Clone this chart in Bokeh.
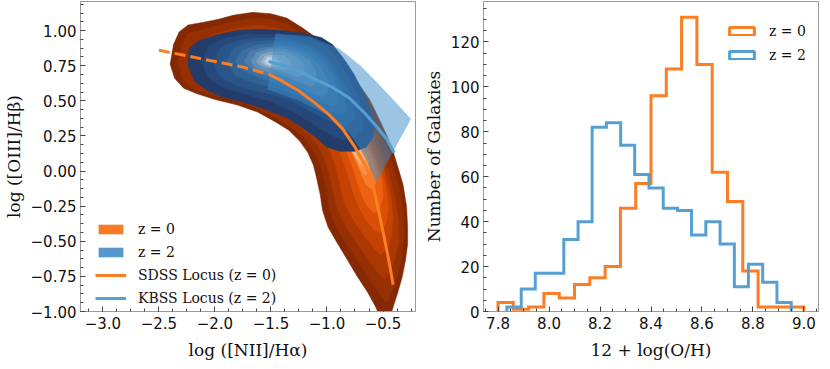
from bokeh.plotting import figure
from bokeh.layouts import row
from bokeh.models import SingleIntervalTicker, CustomJSTickFormatter, Range1d
from bokeh.embed import file_html
from bokeh.resources import INLINE

NAN = float("nan")

# ---------------- right panel: metallicity histograms ----------------
bin_edges_z0 = [7.80, 7.86, 7.92, 7.98, 8.04, 8.10, 8.16, 8.22, 8.28, 8.34, 8.40,
                8.46, 8.52, 8.58, 8.64, 8.70, 8.76, 8.82, 8.88, 8.94, 9.00]
counts_z0 = [4, 1, 2, 8, 6, 12, 15, 20, 46, 57, 96, 108, 131, 110, 62, 49, 18, 2, 2, 2]
bin_edges_z2 = [7.835, 7.891, 7.946, 8.002, 8.058, 8.114, 8.169, 8.225, 8.281, 8.336, 8.392,
                8.448, 8.504, 8.559, 8.615, 8.671, 8.727, 8.782, 8.838, 8.894, 8.950]
counts_z2 = [2, 10, 17, 17, 32, 40, 82, 84, 74, 61, 55, 46, 45, 34, 40, 30, 11, 21, 13, 4]

# ---------------- left panel: BPT diagram ----------------
# SDSS locus (dashed extrapolation + solid part), KBSS locus
sdss_dash_x = [-2.50, -2.25, -2.00, -1.75, -1.52]
sdss_dash_y = [0.86, 0.82, 0.78, 0.74, 0.69]
sdss_x = [-1.52, -1.40, -1.25, -1.10, -0.98, -0.86, -0.75, -0.66, -0.60, -0.54, -0.48, -0.44, -0.41]
sdss_y = [0.69, 0.64, 0.57, 0.48, 0.40, 0.30, 0.17, 0.04, -0.06, -0.28, -0.51, -0.67, -0.81]
kbss_x = [-1.52, -1.38, -1.25, -1.10, -0.96, -0.80, -0.66, -0.55, -0.47, -0.40]
kbss_y = [0.78, 0.75, 0.71, 0.65, 0.60, 0.52, 0.41, 0.31, 0.23, 0.13]

# KBSS locus scatter wedge
wedge_x = [-1.46, -1.16, -0.89, -0.70, -0.54, -0.40, -0.25, -0.56, -0.66, -0.80, -1.00, -1.25, -1.53]
wedge_y = [0.98, 0.96, 0.87, 0.75, 0.62, 0.50, 0.37, -0.08, 0.10, 0.27, 0.40, 0.50, 0.58]

# z ~ 0 (SDSS) density contours, outer -> inner
z0_l1_x = [-2.40, -2.37, -2.32, -2.24, -2.10, -1.97, -1.83, -1.66, -1.50, -1.36, -1.22, -1.08, -0.95, -0.82,
           -0.70, -0.62, -0.54, -0.47, -0.41, -0.36, -0.32, -0.29, -0.28, -0.28, -0.30, -0.33, -0.37, -0.41,
           -0.44, -0.48, -0.52, -0.57, -0.64, -0.73, -0.82, -0.91, -0.99, -1.04, -1.06, -1.09, -1.12, -1.17,
           -1.24, -1.34, -1.46, -1.62, -1.80, -2.00, -2.16, -2.28, -2.36]
z0_l1_y = [0.76, 0.90, 0.99, 1.04, 1.06, 1.08, 1.11, 1.13, 1.12, 1.09, 1.02, 0.94, 0.85, 0.71,
           0.60, 0.51, 0.38, 0.26, 0.14, 0.01, -0.10, -0.25, -0.40, -0.52, -0.64, -0.76, -0.87, -0.97,
           -1.05, -1.20, -1.05, -0.96, -0.86, -0.75, -0.63, -0.51, -0.40, -0.28, -0.17, -0.06, 0.04, 0.13,
           0.21, 0.29, 0.35, 0.42, 0.47, 0.51, 0.55, 0.59, 0.66]
z0_l2_x = [-2.33, -2.30, -2.24, -2.10, -1.95, -1.80, -1.64, -1.50, -1.37, -1.24, -1.10, -0.98, -0.86, -0.74,
           -0.65, -0.57, -0.50, -0.44, -0.39, -0.35, -0.32, -0.31, -0.33, -0.37, -0.42, -0.46, -0.51, -0.59,
           -0.68, -0.77, -0.86, -0.93, -0.98, -1.00, -1.03, -1.07, -1.13, -1.21, -1.32, -1.46, -1.64, -1.82,
           -2.02, -2.18, -2.28]
z0_l2_y = [0.76, 0.90, 0.98, 1.01, 1.04, 1.07, 1.09, 1.08, 1.05, 0.98, 0.90, 0.81, 0.68, 0.57,
           0.47, 0.34, 0.22, 0.10, -0.02, -0.15, -0.30, -0.45, -0.60, -0.74, -0.86, -0.94, -0.90, -0.81,
           -0.70, -0.59, -0.48, -0.38, -0.27, -0.16, -0.05, 0.06, 0.16, 0.24, 0.31, 0.38, 0.45, 0.50,
           0.54, 0.58, 0.64]
z0_l3_x = [-2.20, -2.15, -2.00, -1.80, -1.60, -1.40, -1.25, -1.10, -0.96, -0.84, -0.72, -0.62, -0.54, -0.48,
           -0.43, -0.39, -0.36, -0.36, -0.39, -0.44, -0.49, -0.55, -0.63, -0.72, -0.80, -0.87, -0.92, -0.95,
           -0.98, -1.02, -1.08, -1.16, -1.28, -1.45, -1.65, -1.85, -2.05, -2.16]
z0_l3_y = [0.78, 0.92, 0.98, 1.02, 1.04, 1.01, 0.94, 0.85, 0.74, 0.62, 0.50, 0.36, 0.22, 0.08,
           -0.06, -0.20, -0.35, -0.50, -0.62, -0.72, -0.77, -0.72, -0.63, -0.53, -0.44, -0.34, -0.24, -0.13,
           -0.02, 0.08, 0.18, 0.26, 0.34, 0.42, 0.49, 0.54, 0.59, 0.66]
z0_l4_x = [-2.00, -1.85, -1.60, -1.40, -1.22, -1.06, -0.92, -0.80, -0.68, -0.59, -0.52, -0.47, -0.43, -0.41,
           -0.42, -0.46, -0.52, -0.58, -0.66, -0.74, -0.81, -0.86, -0.89, -0.92, -0.97, -1.04, -1.14, -1.30,
           -1.50, -1.75, -1.92]
z0_l4_y = [0.80, 0.95, 0.99, 0.96, 0.89, 0.78, 0.66, 0.54, 0.40, 0.25, 0.10, -0.04, -0.18, -0.32,
           -0.45, -0.55, -0.60, -0.55, -0.47, -0.38, -0.29, -0.19, -0.08, 0.03, 0.13, 0.23, 0.31, 0.40,
           0.47, 0.55, 0.65]
z0_l5_x = [-1.80, -1.60, -1.35, -1.15, -1.00, -0.87, -0.75, -0.65, -0.57, -0.51, -0.47, -0.45, -0.47, -0.52,
           -0.58, -0.65, -0.71, -0.76, -0.80, -0.84, -0.89, -0.96, -1.06, -1.22, -1.45, -1.68]
z0_l5_y = [0.78, 0.90, 0.88, 0.78, 0.66, 0.54, 0.41, 0.27, 0.13, 0.00, -0.13, -0.26, -0.37, -0.44,
           -0.42, -0.35, -0.27, -0.17, -0.07, 0.04, 0.14, 0.23, 0.32, 0.42, 0.52, 0.62]
z0_l6_x = [-1.50, -1.30, -1.12, -0.97, -0.84, -0.72, -0.63, -0.56, -0.51, -0.50, -0.53, -0.58, -0.64, -0.69,
           -0.73, -0.77, -0.81, -0.87, -0.96, -1.12, -1.32]
z0_l6_y = [0.75, 0.80, 0.71, 0.60, 0.47, 0.33, 0.19, 0.06, -0.07, -0.18, -0.27, -0.30, -0.25, -0.17,
           -0.08, 0.02, 0.11, 0.20, 0.29, 0.40, 0.52]
z0_l7_x = [-1.25, -1.08, -0.93, -0.80, -0.69, -0.61, -0.56, -0.56, -0.60, -0.65, -0.69, -0.73, -0.77, -0.83,
           -0.92, -1.05, -1.20]
z0_l7_y = [0.65, 0.62, 0.52, 0.39, 0.25, 0.12, 0.00, -0.08, -0.13, -0.10, -0.03, 0.05, 0.13, 0.21,
           0.30, 0.40, 0.52]
z0_l8_x = [-1.05, -0.92, -0.80, -0.70, -0.63, -0.62, -0.66, -0.70, -0.74, -0.78, -0.85, -0.95, -1.05]
z0_l8_y = [0.50, 0.45, 0.33, 0.20, 0.08, 0.00, -0.03, 0.01, 0.08, 0.15, 0.23, 0.32, 0.42]
z0_l9_x = [-0.90, -0.78, -0.70, -0.66, -0.70, -0.75, -0.80, -0.88]
z0_l9_y = [0.35, 0.27, 0.16, 0.08, 0.05, 0.10, 0.17, 0.25]

# z ~ 2 (KBSS) density contours, outer -> inner
z2_l1_x = [-2.24, -2.23, -2.14, -1.98, -1.80, -1.60, -1.40, -1.20, -1.05, -0.95, -0.85, -0.76, -0.68, -0.62,
           -0.58, -0.59, -0.65, -0.75, -0.88, -1.00, -1.10, -1.22, -1.36, -1.55, -1.75, -1.95, -2.08, -2.18]
z2_l1_y = [0.75, 0.87, 0.93, 0.97, 1.00, 1.01, 1.00, 0.98, 0.95, 0.90, 0.80, 0.69, 0.57, 0.45,
           0.34, 0.24, 0.17, 0.14, 0.14, 0.17, 0.24, 0.31, 0.38, 0.44, 0.49, 0.53, 0.58, 0.64]
z2_l2_x = [-2.12, -2.06, -1.90, -1.70, -1.45, -1.22, -1.06, -0.96, -0.87, -0.79, -0.72, -0.67, -0.68, -0.75,
           -0.86, -0.98, -1.12, -1.28, -1.48, -1.70, -1.92, -2.06]
z2_l2_y = [0.78, 0.89, 0.95, 0.98, 0.97, 0.95, 0.91, 0.85, 0.75, 0.64, 0.52, 0.40, 0.30, 0.24,
           0.22, 0.26, 0.33, 0.41, 0.49, 0.54, 0.59, 0.66]
z2_l3_x = [-2.01, -1.95, -1.80, -1.60, -1.40, -1.22, -1.08, -0.98, -0.90, -0.82, -0.76, -0.74, -0.80, -0.90,
           -1.02, -1.16, -1.32, -1.52, -1.74, -1.92, -1.99]
z2_l3_y = [0.78, 0.88, 0.93, 0.95, 0.95, 0.92, 0.87, 0.80, 0.70, 0.58, 0.47, 0.38, 0.33, 0.33,
           0.37, 0.43, 0.50, 0.55, 0.59, 0.65, 0.71]
z2_l4_x = [-1.90, -1.84, -1.70, -1.50, -1.30, -1.15, -1.04, -0.95, -0.88, -0.83, -0.82, -0.88, -0.98, -1.10,
           -1.25, -1.45, -1.66, -1.82]
z2_l4_y = [0.78, 0.87, 0.92, 0.93, 0.92, 0.88, 0.82, 0.73, 0.62, 0.51, 0.43, 0.40, 0.42, 0.47,
           0.53, 0.59, 0.63, 0.68]
z2_l5_x = [-1.82, -1.76, -1.62, -1.45, -1.28, -1.14, -1.04, -0.96, -0.91, -0.90, -0.95, -1.05, -1.18, -1.35,
           -1.55, -1.72]
z2_l5_y = [0.78, 0.86, 0.90, 0.91, 0.89, 0.85, 0.78, 0.69, 0.59, 0.50, 0.46, 0.49, 0.54, 0.60,
           0.65, 0.70]
z2_l6_x = [-1.74, -1.69, -1.57, -1.42, -1.27, -1.15, -1.06, -1.00, -0.99, -1.04, -1.14, -1.28, -1.45, -1.64]
z2_l6_y = [0.78, 0.85, 0.88, 0.89, 0.87, 0.82, 0.75, 0.66, 0.57, 0.53, 0.56, 0.61, 0.66, 0.70]
z2_l7_x = [-1.68, -1.63, -1.52, -1.38, -1.26, -1.16, -1.10, -1.09, -1.14, -1.24, -1.38, -1.55, -1.64]
z2_l7_y = [0.78, 0.84, 0.87, 0.87, 0.84, 0.79, 0.71, 0.63, 0.60, 0.63, 0.68, 0.71, 0.74]
z2_l8_x = [-1.63, -1.59, -1.50, -1.38, -1.28, -1.21, -1.20, -1.26, -1.36, -1.50, -1.59]
z2_l8_y = [0.78, 0.83, 0.85, 0.85, 0.82, 0.76, 0.69, 0.67, 0.70, 0.73, 0.75]
z2_l9_x = [-1.59, -1.55, -1.47, -1.38, -1.32, -1.32, -1.40, -1.50, -1.56]
z2_l9_y = [0.78, 0.82, 0.83, 0.82, 0.78, 0.73, 0.72, 0.74, 0.76]
z2_l10_x = [-1.56, -1.53, -1.47, -1.42, -1.44, -1.50, -1.54]
z2_l10_y = [0.78, 0.81, 0.81, 0.78, 0.75, 0.75, 0.76]

z0_levels_x = [z0_l1_x, z0_l2_x, z0_l3_x, z0_l4_x, z0_l5_x, z0_l6_x, z0_l7_x, z0_l8_x, z0_l9_x]
z0_levels_y = [z0_l1_y, z0_l2_y, z0_l3_y, z0_l4_y, z0_l5_y, z0_l6_y, z0_l7_y, z0_l8_y, z0_l9_y]
z0_colors = ["#842903", "#963003", "#ab3803", "#c44202", "#da4f07", "#ec6211", "#f77b29", "#fd9548", "#fdb173"]
z2_levels_x = [z2_l1_x, z2_l2_x, z2_l3_x, z2_l4_x, z2_l5_x, z2_l6_x, z2_l7_x, z2_l8_x, z2_l9_x, z2_l10_x]
z2_levels_y = [z2_l1_y, z2_l2_y, z2_l3_y, z2_l4_y, z2_l5_y, z2_l6_y, z2_l7_y, z2_l8_y, z2_l9_y, z2_l10_y]
z2_colors = ["#233c6a", "#26487b", "#2a5589", "#306296", "#3b6fa1", "#4c7eab", "#6490b7", "#7fa3c3", "#9cb7cf", "#c3d0da"]

ORANGE = "#fb7d24"
BLUE = "#55a0d3"
SERIF = "DejaVu Serif"
SANS = "DejaVu Sans"


def fmt(decimals):
    return CustomJSTickFormatter(code=(
        "const s = Math.abs(tick).toFixed(%d);" % decimals +
        "return (tick < -1e-9 ? '\u2212' : '') + s;"))


def style(p, xlabel, ylabel):
    for ax in (p.xaxis[0], p.yaxis[0]):
        ax.major_tick_in = 5
        ax.major_tick_out = 0
        ax.minor_tick_in = 3
        ax.minor_tick_out = 0
        ax.major_tick_line_color = "#444444"
        ax.minor_tick_line_color = "#444444"
        ax.axis_line_color = "#9a9a9a"
        ax.major_label_text_font = SANS
        ax.major_label_text_font_size = "15px"
        ax.major_label_text_color = "#111111"
        ax.axis_label_text_font = SERIF
        ax.axis_label_text_font_size = "17px"
        ax.axis_label_text_font_style = "normal"
        ax.axis_label_text_color = "#111111"
        ax.major_label_standoff = 4
        ax.axis_label_standoff = 4
    p.xaxis[0].axis_label_standoff = 8
    p.xaxis[0].major_label_standoff = 5
    p.xaxis[0].axis_label = xlabel
    p.yaxis[0].axis_label = ylabel
    p.xgrid.visible = False
    p.ygrid.visible = False
    p.outline_line_color = "#9a9a9a"
    p.outline_line_width = 1


def legend_style(leg, glyph_h, label_h):
    leg.background_fill_alpha = 0
    leg.border_line_alpha = 0
    leg.padding = 0
    leg.margin = 0
    leg.spacing = 0
    leg.glyph_width = 31
    leg.glyph_height = glyph_h
    leg.label_height = label_h
    leg.label_standoff = 12
    leg.label_text_font = SERIF
    leg.label_text_font_size = "14px"
    leg.label_text_color = "#111111"


FRAME_W = 335
FRAME_H = 310

# ---------------- left figure ----------------
p1 = figure(frame_width=FRAME_W, frame_height=FRAME_H, min_border_left=75, min_border_right=2,
            min_border_top=1, min_border_bottom=0,
            x_range=Range1d(-3.2, -0.21), y_range=Range1d(-1.0, 1.207),
            output_backend="svg", toolbar_location=None)
p1.xaxis[0].ticker = SingleIntervalTicker(interval=0.5, num_minor_ticks=4)
p1.yaxis[0].ticker = SingleIntervalTicker(interval=0.25, num_minor_ticks=4)
p1.xaxis[0].formatter = fmt(1)
p1.yaxis[0].formatter = fmt(2)
style(p1, "log ([NII]/H\u03b1)", "log ([OIII]/H\u03b2)")

p1.patches(xs=z0_levels_x, ys=z0_levels_y, fill_color=z0_colors, line_color=z0_colors, line_width=0.5)
p1.patches(xs=z2_levels_x, ys=z2_levels_y, fill_color=z2_colors, line_color=z2_colors, line_width=0.5)
# legend proxies (nothing drawn in the plot area)
p1.patch(x=[NAN], y=[NAN], fill_color="#f77b27", line_alpha=0, legend_label="z = 0")
p1.patch(x=[NAN], y=[NAN], fill_color="#5599cc", line_alpha=0, legend_label="z = 2")
p1.patch(x=wedge_x, y=wedge_y, fill_color="#3a8cc8", fill_alpha=0.5, line_alpha=0)
p1.line(sdss_dash_x, sdss_dash_y, line_color=ORANGE, line_width=3, line_dash="11 5")
p1.line(sdss_x, sdss_y, line_color=ORANGE, line_width=3, legend_label="SDSS Locus (z = 0)")
p1.line(kbss_x, kbss_y, line_color=BLUE, line_width=3, legend_label="KBSS Locus (z = 2)")

leg = p1.legend[0]
legend_style(leg, 12, 23)
leg.location = (15, 2)

# ---------------- right figure ----------------
p2 = figure(frame_width=FRAME_W, frame_height=FRAME_H, min_border_left=66, min_border_right=1,
            min_border_top=1, min_border_bottom=0,
            x_range=Range1d(7.743, 9.057), y_range=Range1d(0, 138),
            output_backend="svg", toolbar_location=None)
p2.xaxis[0].ticker = SingleIntervalTicker(interval=0.2, num_minor_ticks=4)
p2.yaxis[0].ticker = SingleIntervalTicker(interval=20, num_minor_ticks=4)
p2.xaxis[0].formatter = fmt(1)
p2.yaxis[0].formatter = fmt(0)
style(p2, "12 + log(O/H)", "Number of Galaxies")


def step_outline(edges, counts):
    xs, ys = [edges[0]], [0]
    for i, c in enumerate(counts):
        xs += [edges[i], edges[i + 1]]
        ys += [c, c]
    xs.append(edges[-1])
    ys.append(0)
    return xs, ys


hx0, hy0 = step_outline(bin_edges_z0, counts_z0)
hx2, hy2 = step_outline(bin_edges_z2, counts_z2)
p2.line(hx0, hy0, line_color=ORANGE, line_width=3, line_join="miter")
p2.line(hx2, hy2, line_color=BLUE, line_width=3, line_join="miter")
p2.patch(x=[NAN], y=[NAN], fill_alpha=0, line_color=ORANGE, line_width=3, legend_label="z = 0")
p2.patch(x=[NAN], y=[NAN], fill_alpha=0, line_color=BLUE, line_width=3, legend_label="z = 2")

leg2 = p2.legend[0]
legend_style(leg2, 10, 24)
leg2.location = (243, 244)

layout = row(p1, p2)
open("out.html", "w").write(file_html(layout, INLINE))
